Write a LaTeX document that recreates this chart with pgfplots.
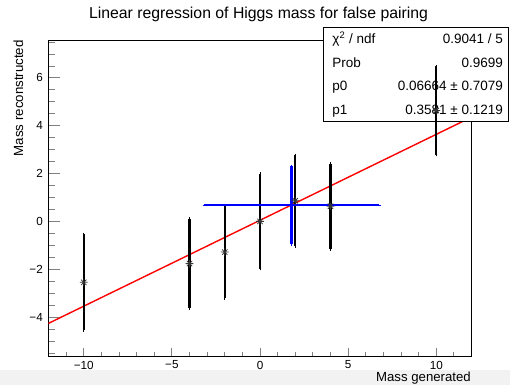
\documentclass[border=0pt]{standalone}
\usepackage{pgfplots}
\pgfplotsset{compat=1.18}
\usepackage{pgfplotstable}
\usepackage{fontspec}
\setmainfont{Liberation Sans}

% ROOT-style asterisk marker: a "+" and an "x" on top of each other
\pgfdeclareplotmark{rootstar}{%
  \pgfpathmoveto{\pgfpoint{-\pgfplotmarksize}{0pt}}%
  \pgfpathlineto{\pgfpoint{\pgfplotmarksize}{0pt}}%
  \pgfpathmoveto{\pgfpoint{0pt}{-\pgfplotmarksize}}%
  \pgfpathlineto{\pgfpoint{0pt}{\pgfplotmarksize}}%
  \pgfpathmoveto{\pgfpoint{-0.7071\pgfplotmarksize}{-0.7071\pgfplotmarksize}}%
  \pgfpathlineto{\pgfpoint{0.7071\pgfplotmarksize}{0.7071\pgfplotmarksize}}%
  \pgfpathmoveto{\pgfpoint{-0.7071\pgfplotmarksize}{0.7071\pgfplotmarksize}}%
  \pgfpathlineto{\pgfpoint{0.7071\pgfplotmarksize}{-0.7071\pgfplotmarksize}}%
  \pgfusepathqstroke}

% reconstructed vs generated mass, false pairing
\pgfplotstableread{
x    y      ey
-10  -2.52  2.00
-4   -1.74  1.87
-2   -1.26  1.91
0     0.02  1.98
2     0.88  1.90
4     0.65  1.78
10    4.64  1.84
}\falsepair

% mean point with its spread
\pgfplotstableread{
x     y     ex    ey
1.79  0.70  4.96  1.62
}\meanpoint

\newcommand\statfont{\fontsize{13.5}{16}\selectfont}

\begin{document}
\begin{tikzpicture}
\useasboundingbox (0,0) rectangle (510pt,385pt);
\fill[black!5] (0,0) rectangle (510pt,15pt);

\begin{axis}[
  at={(48.5pt,28.3pt)}, anchor=south west,
  scale only axis, width=423pt, height=316.7pt,
  xmin=-12, xmax=12, ymin=-5.62, ymax=7.58,
  xtick={-10,-5,0,5,10}, xticklabels={−10,−5,0,5,10},
  ytick={-4,-2,0,2,4,6}, yticklabels={−4,−2,0,2,4,6},
  minor xtick={-12,-11,...,12},
  minor ytick={-5.5,-5,...,7.5},
  tick pos=left, tick align=inside,
  xtick style={/pgfplots/major tick length=8.3pt,/pgfplots/minor tick length=4.3pt, line width=0.8pt},
  ytick style={/pgfplots/major tick length=11.7pt,/pgfplots/minor tick length=6pt, line width=0.8pt},
  axis line style={line width=0.8pt},
  xticklabel style={font=\fontsize{11.7}{13}\selectfont, inner sep=0pt, yshift=-4pt},
  yticklabel style={font=\fontsize{11.7}{13}\selectfont, inner sep=0pt, xshift=-5.5pt},
  clip=false,
]
% straight-line fit p0 + p1*x over the full range
\addplot[red, line width=1.4pt, forget plot] coordinates {(-12,-4.2306) (12,4.3638)};

\addplot[black, only marks, mark=rootstar, mark size=3.8pt,
  mark options={line width=0.8pt, draw=black!80},
  error bars/.cd, y dir=both, y explicit,
  error bar style={line width=2.4pt, black},
  error mark options={black, line width=1pt, mark size=1.6pt}]
  table[x=x, y=y, y error=ey] {\falsepair};

\addplot[blue, mark=none,
  error bars/.cd, x dir=both, x explicit, y dir=both, y explicit,
  error bar style={line width=2.4pt, blue},
  error mark options={blue, line width=1pt, mark size=1.6pt}]
  table[x=x, y=y, x error=ex, y error=ey] {\meanpoint};

% fit statistics box
\filldraw[fill=white, draw=black, line width=0.8pt]
  (axis cs:3.59,8.11) rectangle (axis cs:14.07,4.205);
\node[anchor=base west, inner sep=0pt, font=\statfont] at (axis cs:4.10,7.413) {χ\textsuperscript{2} / ndf};
\node[anchor=base west, inner sep=0pt, font=\statfont] at (axis cs:4.10,6.442) {Prob};
\node[anchor=base west, inner sep=0pt, font=\statfont] at (axis cs:4.10,5.454) {p0};
\node[anchor=base west, inner sep=0pt, font=\statfont] at (axis cs:4.10,4.495) {p1};
\node[anchor=base east, inner sep=0pt, font=\statfont] at (axis cs:13.79,7.413) {0.9041 / 5};
\node[anchor=base east, inner sep=0pt, font=\statfont] at (axis cs:13.79,6.442) {0.9699};
\node[anchor=base east, inner sep=0pt, font=\statfont] at (axis cs:13.79,5.454) {0.06664 ± 0.7079};
\node[anchor=base east, inner sep=0pt, font=\statfont] at (axis cs:13.79,4.495) {0.3581 ± 0.1219};

% error bar of the x = 10 point stays in front of the box
\addplot[black, mark=none,
  error bars/.cd, y dir=both, y explicit,
  error bar style={line width=2.4pt, black},
  error mark options={black, line width=1pt, mark size=1.6pt}]
  coordinates {(10,4.64) +- (0,1.84)};
\end{axis}

\node[anchor=base, inner sep=0pt, font=\fontsize{15.8}{19}\selectfont] at (258.5pt,366.7pt)
  {Linear regression of Higgs mass for false pairing};
\node[anchor=base east, inner sep=0pt, font=\fontsize{13.2}{16}\selectfont] at (471pt,3.8pt)
  {Mass generated};
\node[anchor=base east, rotate=90, inner sep=0pt, font=\fontsize{13.3}{16}\selectfont] at (23pt,345pt)
  {Mass reconstructed};
\end{tikzpicture}
\end{document}
